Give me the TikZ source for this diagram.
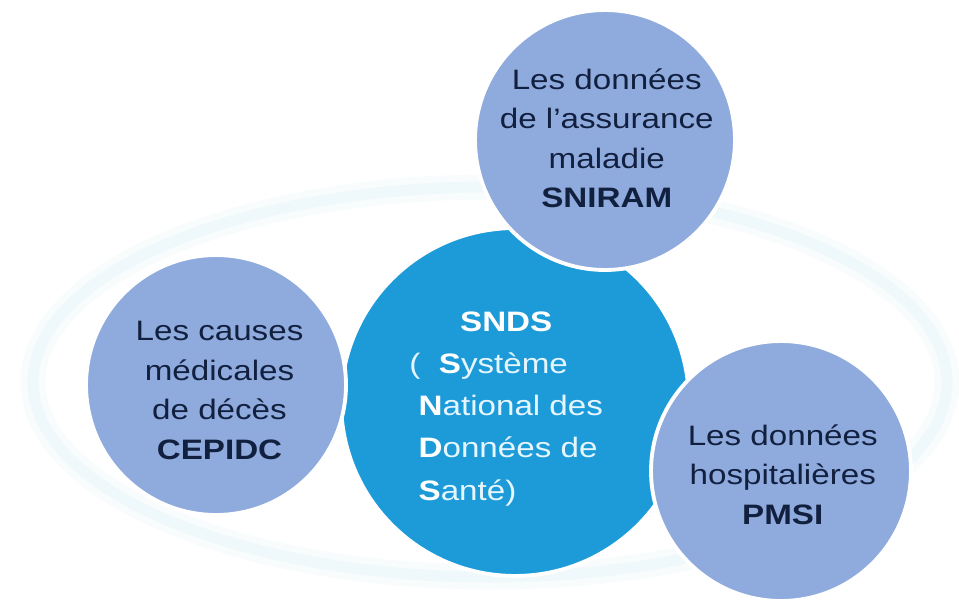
\documentclass[tikz,border=0pt]{standalone}
\usepackage{fontspec}
\setmainfont{Liberation Sans}[FakeStretch=1.18]
\usepackage{tikz}
\definecolor{satfill}{HTML}{8FAADC}
\definecolor{hubfill}{HTML}{1D9BD9}
\definecolor{ink}{HTML}{12203F}
\definecolor{ringcol}{HTML}{E6F4F8}
\definecolor{hubink}{HTML}{E6F6FF}
\newcommand{\firstletter}[1]{{\color{white}\bfseries #1}}

\begin{document}
\begin{tikzpicture}[x=0.02cm,y=0.02cm,
  sat/.style={circle,fill=satfill,draw=white,line width=2.2pt,minimum size=5.2cm,inner sep=0pt},
  hub/.style={circle,fill=hubfill,draw=white,line width=2.2pt,minimum size=6.96cm,inner sep=0pt},
  sattext/.style={align=center,text=ink,font=\fontsize{16}{22.5}\selectfont},
  hubtext/.style={text=hubink,font=\fontsize{16}{24}\selectfont}]
  \useasboundingbox (0,0) rectangle (959,600);
  \draw[ringcol!30,line width=0.5cm] (490,218) ellipse [x radius=457,y radius=195];
  \draw[ringcol!65,line width=0.22cm] (490,218) ellipse [x radius=457,y radius=195];

  \node[hub] (snds) at (515,198) {};
  \node[sat] (cepidc) at (216,215) {};
  \node[sat] (sniram) at (605,460) {};
  \node[sat] (pmsi) at (781,129) {};

  \node[hubtext] (snds-txt) at ([xshift=-5,yshift=-3]snds.center) {\begin{tabular}{@{}l@{}}
    \multicolumn{1}{@{}c@{}}{\color{white}\bfseries SNDS}\\
    (\ \ \firstletter{S}ystème\\
    \ \firstletter{N}ational des\\
    \ \firstletter{D}onnées de\\
    \ \firstletter{S}anté)
  \end{tabular}};
  \node[sattext] (cepidc-txt) at ([xshift=2,yshift=-3]cepidc.center) {Les causes\\médicales\\de décès\\\textbf{CEPIDC}};
  \node[sattext] (sniram-txt) at ([xshift=1,yshift=1]sniram.center) {Les données\\de l’assurance\\maladie\\\textbf{SNIRAM}};
  \node[sattext] (pmsi-txt) at ([xshift=1,yshift=-2]pmsi.center) {Les données\\hospitalières\\\textbf{PMSI}};
\end{tikzpicture}
\end{document}
